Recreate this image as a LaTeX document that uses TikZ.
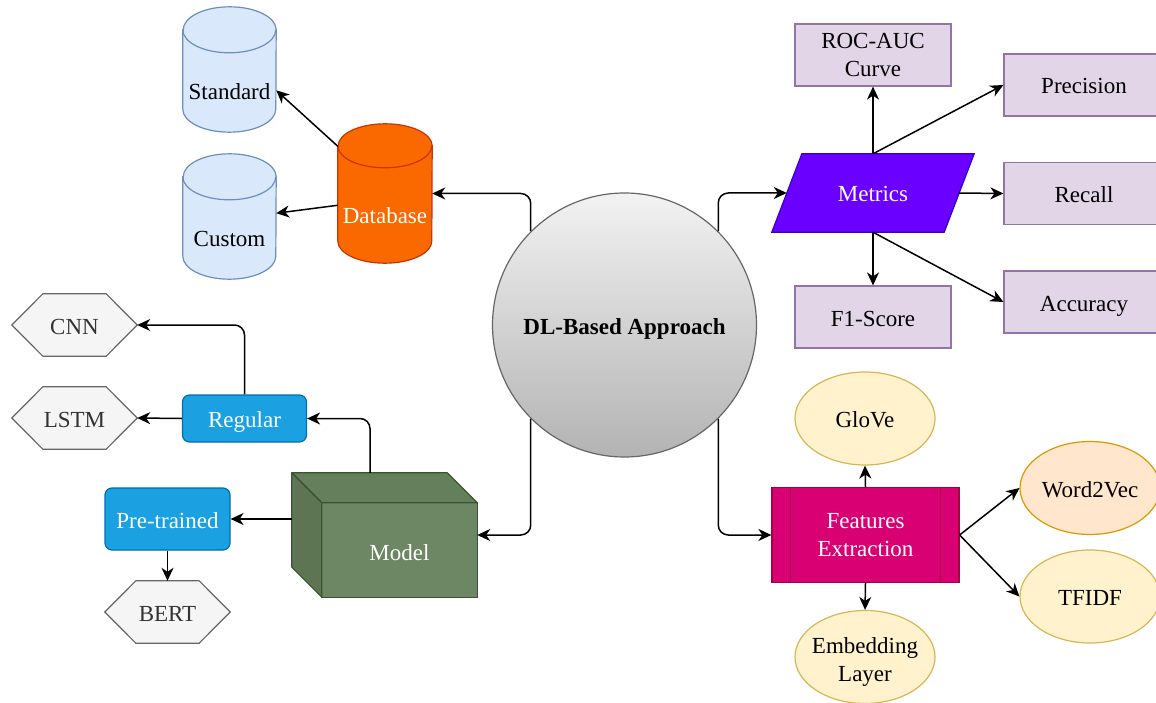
\documentclass[tikz,border=0pt]{standalone}
\usepackage{fontspec}
\setmainfont{Liberation Serif}
\usetikzlibrary{arrows.meta,backgrounds,shapes.geometric}

\definecolor{cylblue}{HTML}{DAE8FC}
\definecolor{cylbluedraw}{HTML}{6C8EBF}
\definecolor{dborange}{HTML}{FA6800}
\definecolor{dborangedraw}{HTML}{C73500}
\definecolor{hexfill}{HTML}{F5F5F5}
\definecolor{hexdraw}{HTML}{666666}
\definecolor{hextext}{HTML}{333333}
\definecolor{bluefill}{HTML}{1BA1E2}
\definecolor{bluedraw}{HTML}{006EAF}
\definecolor{cubefront}{HTML}{6D8764}
\definecolor{cubetop}{HTML}{657E5C}
\definecolor{cubeside}{HTML}{5D7553}
\definecolor{cubedraw}{HTML}{3A5431}
\definecolor{metfill}{HTML}{6A00FF}
\definecolor{metdraw}{HTML}{3700CC}
\definecolor{purfill}{HTML}{E1D5E7}
\definecolor{purdraw}{HTML}{9673A6}
\definecolor{featfill}{HTML}{D80073}
\definecolor{featdraw}{HTML}{A50040}
\definecolor{yelfill}{HTML}{FFF2CC}
\definecolor{yeldraw}{HTML}{D6B656}
\definecolor{orfill}{HTML}{FFE6CC}
\definecolor{ordraw}{HTML}{D79B00}
\definecolor{circtop}{HTML}{F2F2F2}
\definecolor{circbot}{HTML}{B3B3B3}

% cylinder outline around a placeholder node: #1 node, #2 style, #3 x radius, #4 cap height
\newcommand\cylshape[4]{%
  \path[#2] ([yshift=-#4pt]#1.north west) -- ([yshift=#4pt]#1.south west)
    arc[start angle=180, end angle=360, x radius=#3pt, y radius=#4pt]
    -- ([yshift=-#4pt]#1.north east)
    arc[start angle=0, end angle=180, x radius=#3pt, y radius=#4pt] -- cycle;
  \path[#2, fill=none] ([yshift=-#4pt]#1.north west)
    arc[start angle=180, end angle=360, x radius=#3pt, y radius=#4pt];
}
% hexagon outline around a placeholder node: #1 node, #2 slant
\newcommand\hexshape[2]{%
  \path[hexstyle] (#1.west) -- ([xshift=#2pt]#1.north west) -- ([xshift=-#2pt]#1.north east)
    -- (#1.east) -- ([xshift=-#2pt]#1.south east) -- ([xshift=#2pt]#1.south west) -- cycle;
}

\begin{document}
\begin{tikzpicture}[x=1pt,y=-1pt,
  every node/.style={font=\fontsize{23}{28}\selectfont, align=center, inner sep=0pt},
  tb/.style={text height=18pt, text depth=0pt},
  arr/.style={draw=black, line width=1.5pt, -{Stealth[length=13pt,width=12pt,inset=4pt]}},
  rarr/.style={arr, rounded corners=10pt},
  shapeline/.style={line width=1.2pt},
  cylstd/.style={shapeline, draw=cylbluedraw, fill=cylblue},
  cyldb/.style={shapeline, draw=dborangedraw, fill=dborange},
  hexstyle/.style={shapeline, draw=hexdraw, fill=hexfill},
  hexnode/.style={tb, minimum width=125, minimum height=62, text=hextext},
  bluebox/.style={tb, shapeline, draw=bluedraw, fill=bluefill, rounded corners=7pt, text=white},
  purbox/.style={shapeline, draw=purdraw, fill=purfill, minimum width=156, minimum height=62},
  yelell/.style={ellipse, shapeline, draw=yeldraw, fill=yelfill, inner sep=-20pt,
                 minimum width=140, minimum height=93},
]
\useasboundingbox (0,0) rectangle (1156,703);
\clip (0,0) rectangle (1156,703);

% central node
\node[tb, circle, minimum size=264, draw=hexdraw, shapeline, top color=circtop, bottom color=circbot]
  (c) at (624.5,325) {\bfseries DL-Based Approach};

% database branch
\node[minimum width=94, minimum height=139,
      label={[tb, text=white, yshift=-21pt]center:Database}] (db) at (385,193.5) {};
\node[minimum width=93, minimum height=125,
      label={[tb, yshift=-21.5pt]center:Standard}] (st) at (229.5,69.5) {};
\node[minimum width=93, minimum height=125,
      label={[tb, yshift=-21.5pt]center:Custom}] (cu) at (229.5,216.5) {};

% model branch
\node[minimum width=185, minimum height=124,
      label={[tb, text=white, xshift=15pt, yshift=-16pt]center:Model}] (model) at (384.5,535) {};
\node[bluebox, minimum width=124, minimum height=47] (reg) at (244.5,418.5) {Regular};
\node[bluebox, minimum width=125, minimum height=62] (pre) at (167.5,519) {Pre-trained};
\node[hexnode] (cnn) at (74.5,325) {CNN};
\node[hexnode] (lstm) at (74.5,418) {LSTM};
\node[hexnode] (bert) at (167.5,612) {BERT};

% metrics branch
\node[tb, minimum width=202, minimum height=78, text=white] (met) at (873,193) {Metrics};
\node[purbox, yshift=-1pt] (roc) at (873,54) {ROC-AUC\\Curve};
\node[purbox, tb, minimum width=160] (prec) at (1084,85) {Precision};
\node[purbox, tb, minimum width=160] (rec) at (1084,193.5) {Recall};
\node[purbox, tb, minimum width=160] (acc) at (1084,302) {Accuracy};
\node[purbox, tb] (f1) at (873,317) {F1-Score};

% features branch
\node[shapeline, draw=featdraw, fill=featfill, minimum width=187, minimum height=95, text=white]
  (fe) at (865.5,535) {Features\\Extraction};
\draw[shapeline, draw=featdraw] ([xshift=19pt]fe.north west) -- ([xshift=19pt]fe.south west);
\draw[shapeline, draw=featdraw] ([xshift=-19pt]fe.north east) -- ([xshift=-19pt]fe.south east);
\node[yelell, tb] (glove) at (865,418.5) {GloVe};
\node[yelell, label={[yshift=-5pt]center:Embedding\\Layer}] (emb) at (865,657) {};
\node[yelell, tb, draw=ordraw, fill=orfill] (w2v) at (1090,488) {Word2Vec};
\node[yelell, tb] (tfidf) at (1090,596.5) {TFIDF};

% custom outlines behind the nodes
\begin{scope}[on background layer]
  \cylshape{db}{cyldb}{47}{22}
  \cylshape{st}{cylstd}{46.5}{23}
  \cylshape{cu}{cylstd}{46.5}{23}
  \hexshape{cnn}{31}
  \hexshape{lstm}{31}
  \hexshape{bert}{31}
  % cube
  \path[shapeline, draw=cubedraw, fill=cubefront]
    ([xshift=30pt, yshift=-30pt]model.north west) rectangle (model.south east);
  \path[shapeline, draw=cubedraw, fill=cubetop, line join=round]
    (model.north west) -- ([xshift=-30pt]model.north east) -- ([yshift=-30pt]model.north east)
    -- ([xshift=30pt, yshift=-30pt]model.north west) -- cycle;
  \path[shapeline, draw=cubedraw, fill=cubeside, line join=round]
    (model.north west) -- ([xshift=30pt, yshift=-30pt]model.north west)
    -- ([xshift=30pt]model.south west) -- ([yshift=30pt]model.south west) -- cycle;
  % parallelogram
  \path[shapeline, draw=metdraw, fill=metfill]
    ([xshift=30pt]met.north west) -- (met.north east) -- ([xshift=-30pt]met.south east)
    -- (met.south west) -- cycle;
\end{scope}

% connectors from the centre
\draw[rarr] (c.135) |- (db.east);
\draw[rarr] (c.225) |- (model.east);
\draw[rarr] (c.45) |- ([xshift=15pt]met.west);
\draw[rarr] (c.-45) |- (fe.west);

% database connectors
\draw[arr] (db.135) -- (st.-24);
\draw[arr] (db.194) -- (cu.4);

% model connectors
\draw[rarr] ([xshift=-14.5pt]model.north) |- (reg.east);
\draw[arr] (model.west |- pre.east) -- (pre.east);
\draw[rarr] (reg.north) |- (cnn.east);
\draw[arr] (reg.west) -- (lstm.east);
\draw[arr] (pre.south) -- (bert.north);

% metrics connectors
\draw[arr] (met.north) -- (roc.south);
\draw[arr] (met.north) -- (prec.west);
\draw[arr] ([xshift=-15pt]met.east) -- (rec.west);
\draw[arr] (met.south) -- (f1.north);
\draw[arr] (met.south) -- (acc.west);

% features connectors
\draw[arr] (fe.north) -- (glove.south);
\draw[arr] (fe.south) -- (emb.north);
\draw[arr] (fe.east) -- (w2v.west);
\draw[arr] (fe.east) -- (tfidf.west);
\end{tikzpicture}
\end{document}
